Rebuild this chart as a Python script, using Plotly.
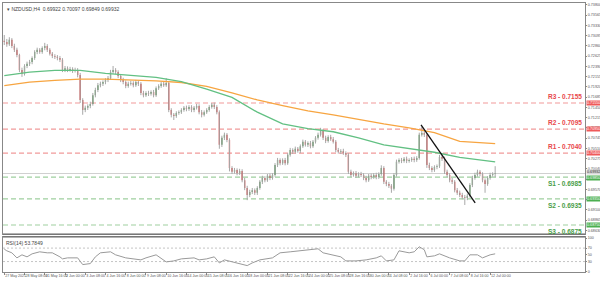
import plotly.graph_objects as go

# ---------------- data ----------------
opens = [0.7298, 0.7295, 0.7290, 0.7300, 0.7286, 0.7277, 0.7265, 0.7231, 0.7222, 0.7240,
         0.7245, 0.7249, 0.7258, 0.7272, 0.7277, 0.7272, 0.7281, 0.7286, 0.7277, 0.7268,
         0.7263, 0.7261, 0.7258, 0.7254, 0.7231, 0.7235, 0.7231, 0.7233, 0.7229, 0.7231,
         0.7219, 0.7162, 0.7139, 0.7144, 0.7148, 0.7153, 0.7173, 0.7185, 0.7196, 0.7199,
         0.7203, 0.7208, 0.7212, 0.7226, 0.7231, 0.7226, 0.7217, 0.7208, 0.7203, 0.7194,
         0.7199, 0.7201, 0.7196, 0.7203, 0.7199, 0.7178, 0.7173, 0.7178, 0.7176, 0.7180,
         0.7173, 0.7189, 0.7194, 0.7199, 0.7196, 0.7201, 0.7139, 0.7128, 0.7125, 0.7132,
         0.7134, 0.7139, 0.7144, 0.7141, 0.7146, 0.7139, 0.7144, 0.7148, 0.7134, 0.7128,
         0.7134, 0.7139, 0.7146, 0.7151, 0.7146, 0.7134, 0.7059, 0.7075, 0.7082, 0.7070,
         0.7006, 0.6997, 0.7001, 0.6994, 0.6999, 0.6978, 0.6960, 0.6944, 0.6951, 0.6955,
         0.6949, 0.6960, 0.6974, 0.6983, 0.6978, 0.6988, 0.6983, 0.6990, 0.7013, 0.7024,
         0.7017, 0.7024, 0.7017, 0.7036, 0.7047, 0.7043, 0.7050, 0.7045, 0.7056, 0.7066,
         0.7059, 0.7063, 0.7056, 0.7066, 0.7075, 0.7082, 0.7091, 0.7075, 0.7068, 0.7077,
         0.7072, 0.7066, 0.7047, 0.7043, 0.7045, 0.7040, 0.7036, 0.6997, 0.6990, 0.6994,
         0.6988, 0.6992, 0.6990, 0.6983, 0.6978, 0.6988, 0.6985, 0.6990, 0.6985, 0.6992,
         0.7006, 0.6974, 0.6969, 0.6965, 0.6958, 0.6990, 0.7020, 0.7024, 0.7022, 0.7027,
         0.7022, 0.7024, 0.7027, 0.7024, 0.7029, 0.7082, 0.7086, 0.7082, 0.7013, 0.7006,
         0.7001, 0.7008, 0.7010, 0.7031, 0.7027, 0.6997, 0.6990, 0.6978, 0.6974, 0.6955,
         0.6949, 0.6944, 0.6939, 0.6937, 0.6942, 0.6967, 0.6983, 0.6990, 0.6997, 0.6992,
         0.6978, 0.6969, 0.6983, 0.6990, 0.6992]
highs = [0.7311, 0.7302, 0.7306, 0.7304, 0.7291, 0.7282, 0.7268, 0.7236, 0.7244, 0.7250,
         0.7254, 0.7262, 0.7276, 0.7282, 0.7281, 0.7285, 0.7293, 0.7290, 0.7281, 0.7272,
         0.7267, 0.7265, 0.7263, 0.7258, 0.7240, 0.7239, 0.7238, 0.7237, 0.7236, 0.7235,
         0.7224, 0.7166, 0.7149, 0.7152, 0.7158, 0.7178, 0.7190, 0.7201, 0.7204, 0.7207,
         0.7212, 0.7217, 0.7231, 0.7240, 0.7235, 0.7230, 0.7221, 0.7213, 0.7207, 0.7204,
         0.7206, 0.7205, 0.7208, 0.7207, 0.7203, 0.7183, 0.7182, 0.7183, 0.7184, 0.7185,
         0.7193, 0.7198, 0.7203, 0.7204, 0.7212, 0.7205, 0.7143, 0.7132, 0.7136, 0.7138,
         0.7143, 0.7148, 0.7149, 0.7150, 0.7150, 0.7148, 0.7153, 0.7152, 0.7139, 0.7138,
         0.7143, 0.7150, 0.7155, 0.7156, 0.7150, 0.7138, 0.7080, 0.7087, 0.7086, 0.7074,
         0.7010, 0.7006, 0.7005, 0.7004, 0.7003, 0.6983, 0.6965, 0.6956, 0.6960, 0.6959,
         0.6964, 0.6978, 0.6988, 0.6987, 0.6992, 0.6993, 0.6994, 0.7017, 0.7029, 0.7028,
         0.7028, 0.7029, 0.7040, 0.7052, 0.7051, 0.7055, 0.7054, 0.7060, 0.7071, 0.7070,
         0.7067, 0.7068, 0.7070, 0.7079, 0.7087, 0.7098, 0.7095, 0.7080, 0.7081, 0.7082,
         0.7077, 0.7070, 0.7052, 0.7049, 0.7050, 0.7044, 0.7040, 0.7002, 0.6998, 0.6999,
         0.6996, 0.6997, 0.6994, 0.6988, 0.6992, 0.6993, 0.6994, 0.6995, 0.6996, 0.7012,
         0.7010, 0.6978, 0.6974, 0.6969, 0.6994, 0.7025, 0.7028, 0.7029, 0.7031, 0.7032,
         0.7028, 0.7031, 0.7032, 0.7033, 0.7087, 0.7100, 0.7091, 0.7086, 0.7018, 0.7010,
         0.7012, 0.7014, 0.7036, 0.7035, 0.7032, 0.7002, 0.6994, 0.6983, 0.6978, 0.6960,
         0.6954, 0.6949, 0.6944, 0.6947, 0.6971, 0.6988, 0.6995, 0.7002, 0.7001, 0.6996,
         0.6982, 0.6987, 0.6995, 0.6996, 0.7010]
lows = [0.7288, 0.7284, 0.7286, 0.7281, 0.7272, 0.7260, 0.7226, 0.7215, 0.7218, 0.7235,
        0.7240, 0.7244, 0.7254, 0.7267, 0.7268, 0.7268, 0.7276, 0.7272, 0.7264, 0.7258,
        0.7256, 0.7253, 0.7249, 0.7226, 0.7226, 0.7226, 0.7227, 0.7224, 0.7225, 0.7214,
        0.7155, 0.7128, 0.7134, 0.7139, 0.7143, 0.7149, 0.7168, 0.7180, 0.7191, 0.7194,
        0.7198, 0.7203, 0.7208, 0.7222, 0.7221, 0.7212, 0.7203, 0.7198, 0.7189, 0.7190,
        0.7195, 0.7191, 0.7192, 0.7194, 0.7173, 0.7168, 0.7169, 0.7171, 0.7172, 0.7168,
        0.7169, 0.7185, 0.7190, 0.7192, 0.7192, 0.7134, 0.7122, 0.7116, 0.7121, 0.7128,
        0.7130, 0.7135, 0.7136, 0.7137, 0.7134, 0.7134, 0.7140, 0.7129, 0.7122, 0.7124,
        0.7130, 0.7135, 0.7142, 0.7141, 0.7129, 0.7050, 0.7054, 0.7070, 0.7065, 0.6998,
        0.6992, 0.6993, 0.6989, 0.6990, 0.6973, 0.6955, 0.6932, 0.6939, 0.6946, 0.6944,
        0.6944, 0.6956, 0.6969, 0.6973, 0.6974, 0.6978, 0.6979, 0.6986, 0.7008, 0.7012,
        0.7013, 0.7012, 0.7013, 0.7032, 0.7038, 0.7039, 0.7041, 0.7040, 0.7052, 0.7055,
        0.7054, 0.7051, 0.7052, 0.7062, 0.7071, 0.7078, 0.7070, 0.7063, 0.7064, 0.7068,
        0.7062, 0.7042, 0.7039, 0.7038, 0.7036, 0.7031, 0.6992, 0.6985, 0.6986, 0.6983,
        0.6984, 0.6985, 0.6978, 0.6973, 0.6974, 0.6980, 0.6981, 0.6980, 0.6981, 0.6988,
        0.6969, 0.6964, 0.6960, 0.6949, 0.6954, 0.6986, 0.7016, 0.7017, 0.7018, 0.7017,
        0.7018, 0.7020, 0.7019, 0.7020, 0.7025, 0.7078, 0.7077, 0.7006, 0.7001, 0.6996,
        0.6997, 0.7003, 0.7006, 0.7022, 0.6992, 0.6985, 0.6973, 0.6969, 0.6950, 0.6944,
        0.6939, 0.6934, 0.6921, 0.6932, 0.6938, 0.6962, 0.6979, 0.6986, 0.6987, 0.6973,
        0.6949, 0.6965, 0.6979, 0.6986, 0.6985]
closes = [0.7295, 0.7290, 0.7300, 0.7286, 0.7277, 0.7265, 0.7231, 0.7222, 0.7240, 0.7245,
          0.7249, 0.7258, 0.7272, 0.7277, 0.7272, 0.7281, 0.7286, 0.7277, 0.7268, 0.7263,
          0.7261, 0.7258, 0.7254, 0.7231, 0.7235, 0.7231, 0.7233, 0.7229, 0.7231, 0.7219,
          0.7162, 0.7139, 0.7144, 0.7148, 0.7153, 0.7173, 0.7185, 0.7196, 0.7199, 0.7203,
          0.7208, 0.7212, 0.7226, 0.7231, 0.7226, 0.7217, 0.7208, 0.7203, 0.7194, 0.7199,
          0.7201, 0.7196, 0.7203, 0.7199, 0.7178, 0.7173, 0.7178, 0.7176, 0.7180, 0.7173,
          0.7189, 0.7194, 0.7199, 0.7196, 0.7201, 0.7139, 0.7128, 0.7125, 0.7132, 0.7134,
          0.7139, 0.7144, 0.7141, 0.7146, 0.7139, 0.7144, 0.7148, 0.7134, 0.7128, 0.7134,
          0.7139, 0.7146, 0.7151, 0.7146, 0.7134, 0.7059, 0.7075, 0.7082, 0.7070, 0.7006,
          0.6997, 0.7001, 0.6994, 0.6999, 0.6978, 0.6960, 0.6944, 0.6951, 0.6955, 0.6949,
          0.6960, 0.6974, 0.6983, 0.6978, 0.6988, 0.6983, 0.6990, 0.7013, 0.7024, 0.7017,
          0.7024, 0.7017, 0.7036, 0.7047, 0.7043, 0.7050, 0.7045, 0.7056, 0.7066, 0.7059,
          0.7063, 0.7056, 0.7066, 0.7075, 0.7082, 0.7091, 0.7075, 0.7068, 0.7077, 0.7072,
          0.7066, 0.7047, 0.7043, 0.7045, 0.7040, 0.7036, 0.6997, 0.6990, 0.6994, 0.6988,
          0.6992, 0.6990, 0.6983, 0.6978, 0.6988, 0.6985, 0.6990, 0.6985, 0.6992, 0.7006,
          0.6974, 0.6969, 0.6965, 0.6958, 0.6990, 0.7020, 0.7024, 0.7022, 0.7027, 0.7022,
          0.7024, 0.7027, 0.7024, 0.7029, 0.7082, 0.7086, 0.7082, 0.7013, 0.7006, 0.7001,
          0.7008, 0.7010, 0.7031, 0.7027, 0.6997, 0.6990, 0.6978, 0.6974, 0.6955, 0.6949,
          0.6944, 0.6939, 0.6937, 0.6942, 0.6967, 0.6983, 0.6990, 0.6997, 0.6992, 0.6978,
          0.6969, 0.6983, 0.6990, 0.6992, 0.6993]
bars = list(range(len(closes)))

ma_bars = [0, 10, 20, 30, 40, 50, 60, 70, 80, 90, 100, 110, 120, 130, 140, 150, 160, 170, 180, 190, 194]
ma_green = [0.7218, 0.7226, 0.7230, 0.7230, 0.7223, 0.7218, 0.7214, 0.7204, 0.7187, 0.7168, 0.7134,
            0.7107, 0.7096, 0.7089, 0.7075, 0.7059, 0.7050, 0.7042, 0.7030, 0.7022, 0.7020]
ma_orange = [0.7195, 0.7203, 0.7207, 0.7210, 0.7210, 0.7208, 0.7206, 0.7202, 0.7193, 0.7178, 0.7162,
             0.7149, 0.7137, 0.7128, 0.7117, 0.7107, 0.7098, 0.7087, 0.7067, 0.7063, 0.7062]

rsi_bars = [0, 1, 3, 5, 7, 9, 11, 14, 17, 19, 22, 23, 25, 29, 31, 34, 36, 38, 42, 44,
            48, 54, 56, 60, 64, 67, 70, 75, 77, 80, 83, 85, 87, 90, 96, 98, 101, 106, 109, 113,
            117, 120, 124, 126, 130, 133, 135, 139, 143, 147, 149, 151, 154, 156, 160, 162, 164, 166, 167, 170,
            172, 176, 180, 182, 184, 187, 189, 192, 194]
rsi_vals = [67, 62, 56, 41, 50, 44, 53, 59, 56, 56, 44, 38, 41, 41, 21, 24, 44, 56, 59, 50,
            41, 35, 41, 50, 29, 32, 38, 41, 35, 38, 44, 26, 35, 29, 18, 26, 35, 41, 56, 59,
            62, 65, 68, 56, 50, 44, 32, 32, 35, 41, 47, 32, 35, 62, 56, 59, 74, 65, 44, 47,
            53, 41, 32, 32, 50, 50, 41, 50, 53]
rsi_levels = [70, 30]

level_names = ["R3", "R2", "R1", "S1", "S2", "S3"]
level_values = [0.7155, 0.7095, 0.7040, 0.6985, 0.6935, 0.6875]

trend_bars = [164.7, 186.1]
trend_prices = [0.7105, 0.6926]

last_price = 0.69932
title_text = "NZDUSD,H4  0.69922 0.70097 0.69849 0.69932"
rsi_text = "RSI(14) 53.7849"

tick_bars = list(range(0, 193, 8))
tick_labels = ["27 May 2021", "28 May 08:00", "31 May 16:00", "2 Jun 00:00", "3 Jun 08:00",
               "4 Jun 16:00", "8 Jun 00:00", "9 Jun 08:00", "10 Jun 16:00", "14 Jun 00:00",
               "15 Jun 08:00", "16 Jun 16:00", "18 Jun 00:00", "21 Jun 08:00", "22 Jun 16:00",
               "24 Jun 00:00", "25 Jun 08:00", "28 Jun 16:00", "30 Jun 00:00", "1 Jul 08:00",
               "2 Jul 16:00", "6 Jul 00:00", "7 Jul 08:00", "8 Jul 16:00", "12 Jul 00:00"]

# ---------------- styles ----------------
RED_LINE = "#f19a9a"
GREEN_LINE = "#9fd09f"
RED_TXT = "#e8474a"
GREEN_TXT = "#4a9e4a"
AX = "#555555"
TICK_FS = 3.7

fig = go.Figure()

# wicks
wx, wy = [], []
for b, h, l in zip(bars, highs, lows):
    wx += [b, b, None]
    wy += [l, h, None]
fig.add_trace(go.Scatter(x=wx, y=wy, mode="lines", line=dict(color="#a8a8a8", width=1),
                         hoverinfo="skip", showlegend=False, xaxis="x", yaxis="y"))

fig.add_trace(go.Candlestick(
    x=bars, open=opens, high=highs, low=lows, close=closes, xaxis="x", yaxis="y",
    increasing=dict(line=dict(color="#2e7d32", width=0), fillcolor="#2e7d32"),
    decreasing=dict(line=dict(color="#d62828", width=0), fillcolor="#d62828"),
    showlegend=False, hoverinfo="skip"))

fig.add_trace(go.Scatter(x=ma_bars, y=ma_orange, mode="lines", line=dict(color="#f7a541", width=1.3),
                         showlegend=False, hoverinfo="skip", xaxis="x", yaxis="y"))
fig.add_trace(go.Scatter(x=ma_bars, y=ma_green, mode="lines", line=dict(color="#62c083", width=1.3),
                         showlegend=False, hoverinfo="skip", xaxis="x", yaxis="y"))

fig.add_trace(go.Scatter(x=trend_bars, y=trend_prices, mode="lines", line=dict(color="#111111", width=1.3),
                         showlegend=False, hoverinfo="skip", xaxis="x", yaxis="y"))

fig.add_trace(go.Scatter(x=rsi_bars, y=rsi_vals, mode="lines", line=dict(color="#9a9a9a", width=1),
                         showlegend=False, hoverinfo="skip", xaxis="x2", yaxis="y2"))

shapes = []
annotations = []

# current price line
shapes.append(dict(type="line", xref="x domain", yref="y", x0=0, x1=1, y0=last_price, y1=last_price,
                   line=dict(color="#d0d0d0", width=1.2), layer="below"))
annotations.append(dict(xref="paper", yref="y", x=1, y=last_price, xanchor="left", yanchor="bottom",
                        text=f"{last_price:.5f}", showarrow=False, font=dict(size=TICK_FS, color="#333"),
                        bgcolor="#d6d6d6", borderpad=0, xshift=1, yshift=-1))

for name, v in zip(level_names, level_values):
    is_r = name.startswith("R")
    lc = RED_LINE if is_r else GREEN_LINE
    tc = RED_TXT if is_r else GREEN_TXT
    shapes.append(dict(type="line", xref="x domain", yref="y", x0=0, x1=1, y0=v, y1=v,
                       line=dict(color=lc, width=1.2, dash="5px,3px"), layer="below"))
    annotations.append(dict(xref="x domain", yref="y", x=0.998, y=v, xanchor="right",
                            yanchor="bottom" if is_r else "top",
                            text=f"<b>{name} - {v:.4f}</b>", showarrow=False,
                            font=dict(size=6.5, color=tc, family="Arial"),
                            yshift=1 if is_r else -1))
    annotations.append(dict(xref="paper", yref="y", x=1, y=v, xanchor="left",
                            yanchor="middle" if name != "S1" else "top",
                            text=f"{v:.5f}", showarrow=False, font=dict(size=TICK_FS, color="white"),
                            bgcolor="#ef5a5a" if is_r else "#4caf50", borderpad=0, xshift=1,
                            yshift=0 if name != "S1" else 2))

for lv in rsi_levels:
    shapes.append(dict(type="line", xref="x2 domain", yref="y2", x0=0, x1=1, y0=lv, y1=lv,
                       line=dict(color="#c4c4c4", width=1, dash="2px,2px"), layer="below"))

MAIN_BOT = 0.1413
RSI_TOP = 0.1301
# panel separator
shapes.append(dict(type="line", xref="paper", yref="paper", x0=0, x1=1, y0=MAIN_BOT, y1=MAIN_BOT,
                   line=dict(color="#666666", width=1.2)))
shapes.append(dict(type="line", xref="paper", yref="paper", x0=0, x1=1, y0=RSI_TOP, y1=RSI_TOP,
                   line=dict(color="#666666", width=1.2)))

annotations.append(dict(xref="paper", yref="paper", x=0.004, y=0.998, xanchor="left", yanchor="top",
                        text="▾ " + title_text, showarrow=False, font=dict(size=5, color="#444")))
annotations.append(dict(xref="paper", yref="paper", x=0.002, y=RSI_TOP - 0.004, xanchor="left", yanchor="top",
                        text=rsi_text, showarrow=False, font=dict(size=5, color="#444")))

fig.update_layout(
    width=600, height=281,
    margin=dict(l=3, r=15, t=3, b=9, autoexpand=False),
    paper_bgcolor="white", plot_bgcolor="white",
    font=dict(family="Arial", color=AX, size=5),
    shapes=shapes, annotations=annotations,
    showlegend=False,
    xaxis=dict(domain=[0, 1], anchor="y", range=[-0.5, 229.5], showgrid=False, zeroline=False,
               showticklabels=False, rangeslider=dict(visible=False), showline=True,
               linecolor="#888", mirror=True, automargin=False),
    xaxis2=dict(domain=[0, 1], anchor="y2", matches="x", showgrid=False, zeroline=False,
                tickmode="array", tickvals=tick_bars, ticktext=tick_labels, tickangle=0,
                ticks="outside", ticklen=2, tickcolor="#888", ticklabelposition="outside right",
                tickfont=dict(size=3.6, color=AX), showline=True, linecolor="#888", mirror=True,
                automargin=False),
    yaxis=dict(domain=[MAIN_BOT, 1], anchor="x", side="right", range=[0.68544, 0.73845],
               showgrid=False, zeroline=False, tick0=0.6863, dtick=0.00235, tickformat=".5f",
               ticks="outside", ticklen=1, tickcolor="#888", tickfont=dict(size=TICK_FS, color=AX),
               showline=True, linecolor="#888", mirror=True, automargin=False),
    yaxis2=dict(domain=[0, RSI_TOP], anchor="x2", side="right", range=[-1, 103],
                showgrid=False, zeroline=False, tickvals=[0, 30, 50, 70, 100],
                ticks="outside", ticklen=1, tickcolor="#888", tickfont=dict(size=TICK_FS, color=AX),
                showline=True, linecolor="#888", mirror=True, automargin=False),
)

fig.write_html("out.html")
